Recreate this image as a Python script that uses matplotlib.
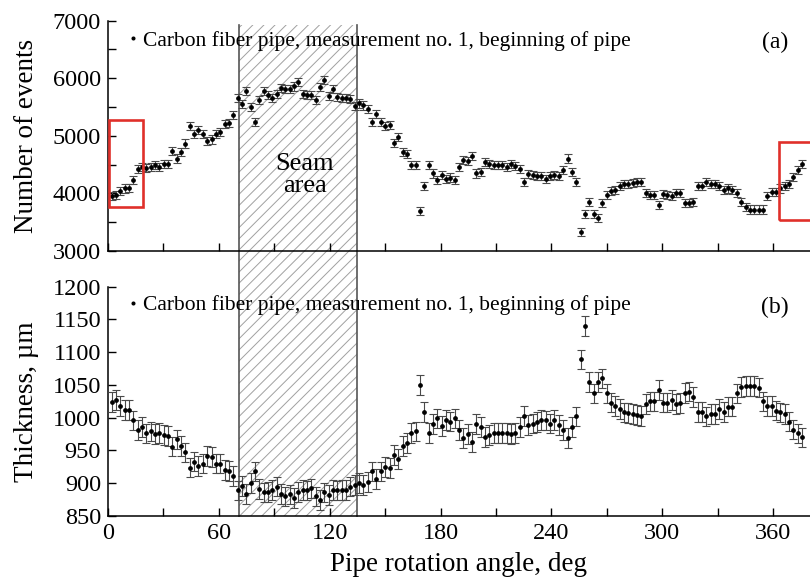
import matplotlib
matplotlib.use("Agg")
import matplotlib.pyplot as plt
import matplotlib.transforms as mtransforms
from matplotlib.patches import Rectangle
from matplotlib.ticker import MultipleLocator
import numpy as np

# rotation angle grid, deg (one reading every ~2.35 deg, pipe turned a bit past 360)
angles = np.arange(2.0, 376.5, 2.35)

events = [
    3950, 3970, 4045, 4085, 4100, 4230, 4425, 4450, 4435, 4460,
    4490, 4460, 4505, 4505, 4735, 4605, 4720, 4865, 5165, 5035,
    5095, 5035, 4910, 4935, 5035, 5065, 5210, 5220, 5355, 5660,
    5550, 5775, 5500, 5240, 5625, 5775, 5700, 5660, 5730, 5835,
    5815, 5815, 5855, 5930, 5730, 5700, 5700, 5615, 5845, 5960,
    5685, 5815, 5670, 5650, 5650, 5640, 5520, 5560, 5525, 5470,
    5240, 5385, 5240, 5165, 5180, 4875, 4980, 4720, 4680, 4490,
    4490, 3695, 4125, 4490, 4345, 4240, 4315, 4255, 4275, 4230,
    4460, 4585, 4565, 4645, 4345, 4375, 4545, 4515, 4490, 4490,
    4490, 4460, 4505, 4470, 4430, 4200, 4335, 4315, 4305, 4300,
    4255, 4300, 4315, 4300, 4400, 4605, 4375, 4200, 3335, 3650,
    3855, 3650, 3565, 3835, 3970, 4045, 4065, 4125, 4160, 4170,
    4180, 4200, 4200, 4010, 3970, 3970, 3795, 3985, 3970, 3950,
    4000, 4010, 3835, 3835, 3855, 4125, 4125, 4200, 4170, 4170,
    4125, 4055, 4085, 4055, 4010, 3855, 3765, 3720, 3720, 3720,
    3720, 3950, 4025, 4025, 4085, 4125, 4170, 4285, 4400, 4505,
]
events_err = 70

thickness = [
    1024, 1027, 1018, 1012, 1012, 996, 981, 986, 976, 979,
    975, 977, 974, 972, 956, 967, 957, 947, 924, 933,
    926, 930, 942, 940, 930, 930, 920, 919, 911, 889,
    896, 884, 900, 918, 891, 886, 887, 890, 895, 884,
    880, 883, 877, 887, 890, 889, 892, 880, 874, 886,
    882, 890, 889, 890, 890, 895, 897, 900, 897, 902,
    918, 906, 918, 925, 923, 943, 937, 957, 961, 977,
    979, 1050, 1009, 977, 990, 999, 987, 997, 994, 999,
    981, 969, 975, 963, 990, 986, 971, 974, 977, 977,
    977, 977, 975, 977, 986, 1003, 989, 991, 993, 997,
    996, 991, 997, 989, 981, 969, 986, 1002, 1089, 1140,
    1055, 1037, 1055, 1060, 1037, 1023, 1018, 1013, 1008, 1007,
    1006, 1004, 1003, 1021, 1025, 1025, 1042, 1023, 1023, 1027,
    1021, 1022, 1038, 1040, 1032, 1009, 1009, 1002, 1006, 1006,
    1013, 1009, 1017, 1017, 1037, 1047, 1048, 1048, 1048, 1046,
    1025, 1018, 1018, 1011, 1008, 1006, 994, 982, 976, 970,
]
thickness_err = 15

seam_start, seam_end = 71, 135
legend_label = "Carbon fiber pipe, measurement no. 1, beginning of pipe"

plt.rcParams["font.family"] = ["Liberation Serif", "DejaVu Serif"]
plt.rcParams["hatch.linewidth"] = 0.7

fig = plt.figure(figsize=(8.1, 5.81), dpi=100)
ax1 = fig.add_axes([0.1333, 0.568, 0.8667, 0.3967])
ax2 = fig.add_axes([0.1333, 0.1119, 0.8667, 0.3946])
ax1.set_zorder(2)
ax1.patch.set_alpha(0)


def draw_panel(ax, values, err, tag, legend_y):
    eb = ax.errorbar(angles, values, yerr=err, fmt="o", ms=2.4, color="black",
                     ecolor="#4a4a4a", elinewidth=0.8, capsize=3.2, capthick=0.8,
                     zorder=3)
    ax.legend([eb[0]], [legend_label], loc="center left",
              bbox_to_anchor=(0.0295, legend_y), frameon=False,
              handlelength=0.4, handletextpad=0.27, borderpad=0,
              borderaxespad=0, fontsize=15.5, markerscale=0.8)
    ax.text(0.95, legend_y - 0.01, tag, transform=ax.transAxes, fontsize=17,
            ha="center", va="center")
    ax.set_xlim(0, 380)
    ax.xaxis.set_major_locator(MultipleLocator(60))
    ax.xaxis.set_minor_locator(MultipleLocator(30))
    ax.tick_params(which="both", direction="in", length=6, width=1,
                   labelsize=17.5, pad=5)
    for s in ("top", "right"):
        ax.spines[s].set_visible(False)
    for s in ("left", "bottom"):
        ax.spines[s].set_linewidth(1.1)


draw_panel(ax1, events, events_err, "(a)", 0.913)
ax1.set_ylim(3000, 7000)
ax1.yaxis.set_major_locator(MultipleLocator(1000))
ax1.yaxis.set_minor_locator(MultipleLocator(500))
ax1.tick_params(labelbottom=False)
ax1.set_ylabel("Number of events", fontsize=19.5, labelpad=10)
ax1.text(106.5, 4320, "Seam\narea", fontsize=19, ha="center", va="center",
         linespacing=1.05)

# highlighted overlap of start / end of the turn
ax1.add_patch(Rectangle((0.4, 3770), 18.6, 1500, fill=False, ec="#e0302a", lw=1.9, zorder=4))
ax1.add_patch(Rectangle((363, 3540), 30, 1350, fill=False, ec="#e0302a", lw=1.9, zorder=4))

draw_panel(ax2, thickness, thickness_err, "(b)", 0.92)
ax2.set_ylim(850, 1200)
ax2.yaxis.set_major_locator(MultipleLocator(50))
ax2.set_ylabel("Thickness, µm", fontsize=19.5, labelpad=10)
ax2.set_xlabel("Pipe rotation angle, deg", fontsize=19.5, labelpad=6)

# seam area spanning both panels
trans = mtransforms.blended_transform_factory(ax2.transData, ax2.transAxes)
seam_top = 2.14
ax2.add_patch(Rectangle((seam_start, 0), seam_end - seam_start, seam_top,
                        transform=trans, facecolor="none", edgecolor="#a0a0a0",
                        hatch="///", lw=0, clip_on=False, zorder=0))
for xs in (seam_start, seam_end):
    ax2.plot([xs, xs], [0, seam_top], transform=trans, color="#555555",
             lw=1.2, clip_on=False, zorder=1)

fig.savefig("out.png", dpi=100)
